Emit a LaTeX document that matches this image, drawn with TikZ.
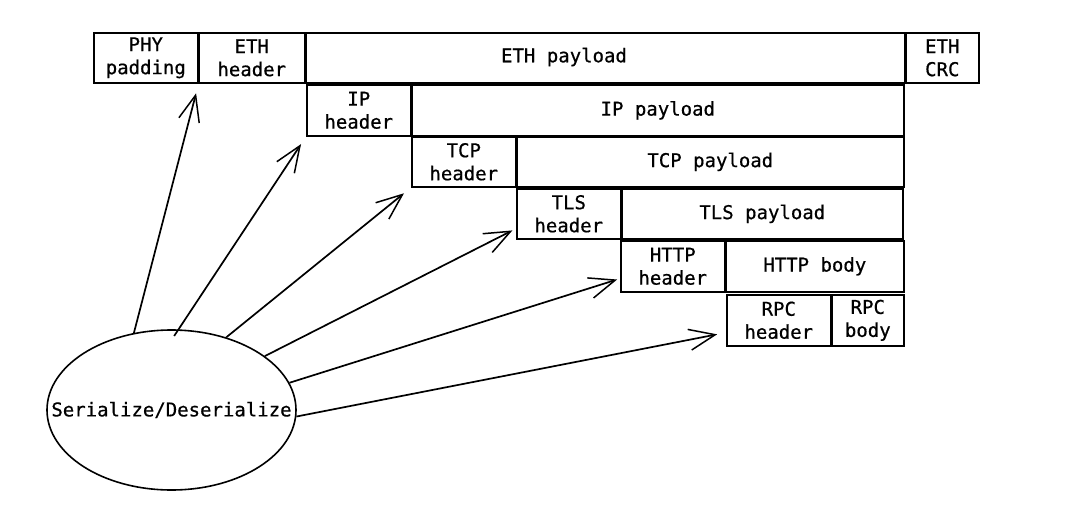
\documentclass[tikz,border=0pt]{standalone}
\usepackage{fontspec}
\setmainfont{DejaVu Sans Mono}[FakeBold=0.6]
\usetikzlibrary{arrows.meta,shapes.geometric}
\begin{document}
\begin{tikzpicture}[x=1pt,y=-1pt,
  box/.style={draw=black,line width=1.6pt,anchor=north west,inner sep=0pt,
    align=center,font=\fontsize{19}{23}\selectfont},
  lbl/.style={inner sep=0pt,font=\fontsize{19}{23}\selectfont},
  oval/.style={draw=black,line width=1.6pt,ellipse,inner sep=0pt,
    minimum width=249pt,minimum height=160pt,font=\fontsize{19}{23}\selectfont},
  arr/.style={draw=black,line width=1.7pt,-{Straight Barb[length=26pt,width=21pt,line width=1.5pt]}}]
\useasboundingbox[fill=white] (0,0) rectangle (1080,517);
% row 1
\node[box,minimum width=104pt,minimum height=50pt] (phy) at (93,32) {PHY\\padding};
\node[box,minimum width=106pt,minimum height=50pt] (ethh) at (198,32) {ETH\\header};
\node[box,minimum width=599pt,minimum height=50pt] (ethp) at (305,32) {};
\node[lbl] (ethpt) at (564,57) {ETH payload};
\node[box,minimum width=73pt,minimum height=50pt] (crc) at (905,32) {ETH\\CRC};
% row 2
\node[box,minimum width=104pt,minimum height=51pt] (iph) at (306,84) {IP\\header};
\node[box,minimum width=492pt,minimum height=51pt] (ipp) at (411,84) {IP payload};
% row 3
\node[box,minimum width=104pt,minimum height=50pt] (tcph) at (411,136) {TCP\\header};
\node[box,minimum width=387pt,minimum height=50pt] (tcpp) at (516,136) {TCP payload};
% row 4
\node[box,minimum width=104pt,minimum height=50pt] (tlsh) at (516,188) {TLS\\header};
\node[box,minimum width=281pt,minimum height=50pt] (tlsp) at (621,188) {TLS payload};
% row 5
\node[box,minimum width=104pt,minimum height=51pt] (httph) at (620,240) {HTTP\\header};
\node[box,minimum width=178pt,minimum height=51pt] (httpb) at (725,240) {HTTP body};
% row 6
\node[box,minimum width=104pt,minimum height=51pt] (rpch) at (726,294) {RPC\\header};
\node[box,minimum width=72pt,minimum height=51pt] (rpcb) at (831,294) {RPC\\body};
% ellipse
\node[oval] (ser) at (171.5,410) {\makebox[0pt]{Serialize/Deserialize}};
% arrows
\draw[arr,shorten >=10pt] (ser.116) -- (phy.south east);
\draw[arr,shorten <=-8pt,shorten >=9pt] (ser.85) -- (iph.south west);
\draw[arr,shorten >=9pt] (ser.53) -- (tcph.south west);
\draw[arr,shorten >=4pt] (ser.30) -- ([yshift=11pt]tlsh.south west);
\draw[arr,shorten >=3pt] (ser.13) -- ([yshift=14pt]httph.south west);
\draw[arr,shorten >=9pt] (ser.-3) -- ([yshift=14pt]rpch.south west);
\end{tikzpicture}
\end{document}
